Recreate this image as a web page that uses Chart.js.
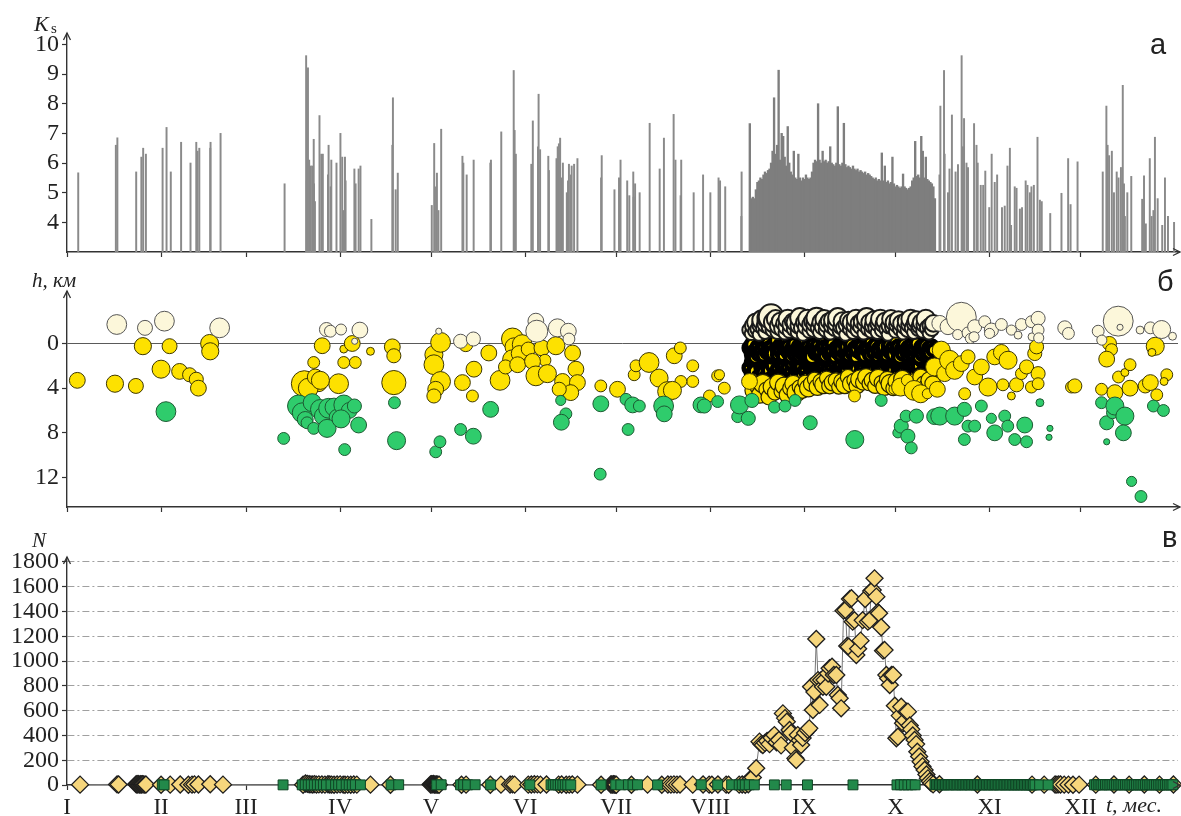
<!DOCTYPE html>
<html>
<head>
<meta charset="utf-8">
<script src="https://cdn.jsdelivr.net/npm/chart.js@4.4.1/dist/chart.umd.min.js"></script>
<style>
html,body{margin:0;padding:0;background:#fff;}
#fig{position:relative;width:1181px;height:816px;overflow:hidden;background:#fff;}
canvas{position:absolute;left:0;}
.t{position:absolute;white-space:nowrap;color:#222;line-height:1;}
.it{font-family:"Liberation Serif","DejaVu Serif",serif;font-style:italic;}
.rm{font-family:"Liberation Serif","DejaVu Serif",serif;}
.sn{font-family:"Liberation Sans","DejaVu Sans",sans-serif;}
</style>
</head>
<body>
<div id="fig">
  <canvas id="cA" width="1181" height="268" style="top:0"></canvas>
  <canvas id="cB" width="1181" height="250" style="top:268px"></canvas>
  <canvas id="cC" width="1181" height="298" style="top:518px"></canvas>

  <div class="t it" style="left:34px;top:13px;font-size:22px">K</div>
  <div class="t rm" style="left:51px;top:21px;font-size:15px">s</div>
  <div class="t sn" style="left:1150px;top:30px;font-size:29px">а</div>

  <div class="t it" style="left:32px;top:270px;font-size:21px">h, км</div>
  <div class="t sn" style="left:1157px;top:267px;font-size:29px">б</div>

  <div class="t it" style="left:32px;top:530px;font-size:21px">N</div>
  <div class="t sn" style="left:1162px;top:523px;font-size:29px">в</div>
  <div class="t it" style="left:1106px;top:794px;font-size:22px">t, мес.</div>
</div>

<script>
// ---- time axis: day of year, month starts and Roman month labels ----
const monthStarts = [0, 31, 59, 90, 120, 151, 181, 212, 243, 273, 304, 334];
const monthLabels = ['I','II','III','IV','V','VI','VII','VIII','IX','X','XI','XII'];

// ---- panel а: energy class Ks of individual events [day, Ks] ----
const ksEvents = [
  [3.7,5.67],[16.1,6.6],[16.6,6.85],[22.8,5.7],[24.5,6.2],[25.1,6.5],[26.0,6.3],[31.5,6.5],[32.8,7.2],[34.2,5.7],
  [37.6,6.7],[40.7,6.0],[42.6,6.7],[43.0,6.4],[43.6,6.5],[47.2,6.5],[47.3,6.7],[50.6,7.0],[71.7,5.3],[78.8,9.62],
  [79.0,5.4],[79.4,9.21],[79.8,6.1],[80.3,5.9],[80.8,5.9],[81.3,6.8],[81.4,5.3],[81.7,4.7],[83.2,7.6],[83.8,6.3],
  [84.3,6.3],[86.0,5.6],[86.2,6.6],[86.9,5.2],[87.1,6.1],[88.8,6.0],[90.1,7.0],[90.7,6.2],[91.1,4.4],[91.6,6.2],
  [91.8,5.4],[94.7,5.8],[95.1,5.3],[96.1,5.8],[96.7,5.9],[100.3,4.1],[107.2,6.6],[107.4,8.2],[108.3,5.1],[109.0,5.66],
  [120.2,4.57],[121.0,6.66],[121.6,5.2],[121.9,5.66],[122.4,4.4],[123.3,7.14],[130.3,6.23],[130.6,6.0],[131.7,5.6],[134.0,6.1],
  [139.5,6.0],[139.7,6.1],[143.1,7.05],[147.2,9.12],[147.5,7.1],[147.9,6.3],[153.0,5.96],[153.5,7.42],[155.2,6.55],[155.4,8.32],
  [155.9,6.45],[158.6,6.23],[158.8,5.75],[161.3,6.15],[161.7,6.55],[162.1,6.65],[162.5,6.84],[162.8,5.5],[163.4,6.0],[164.7,5.0],
  [165.1,5.4],[165.4,5.96],[166.0,5.6],[166.3,5.9],[167.1,5.96],[168.2,6.15],[176.0,5.5],[176.2,6.25],[180.4,5.1],[181.9,5.5],
  [182.4,6.1],[184.6,5.4],[185.3,4.9],[186.6,5.7],[186.7,4.85],[187.2,5.3],[188.7,5.0],[192.0,7.34],[195.3,5.8],[196.7,6.84],
  [199.9,7.64],[200.5,6.1],[202.2,4.9],[202.4,6.1],[206.5,5.0],[209.6,5.6],[212.0,5.0],[214.7,5.5],[215.2,5.4],[216.9,5.2],
  [222.2,4.2],[222.3,5.7],
  [287.5,5.6],[287.8,7.92],[289.0,9.12],[289.2,6.3],[290.3,5.0],[290.8,5.8],[291.6,7.62],[292.8,5.7],[293.6,5.95],[294.8,9.62],
  [295.2,6.55],[295.6,7.5],[296.4,6.0],[296.9,5.85],[298.9,7.33],[299.7,6.6],[300.1,6.0],[301.1,5.25],[301.9,5.25],[302.6,5.73],
  [303.9,4.5],[304.7,6.3],[305.7,5.35],[306.5,5.6],[308.1,4.5],[309.0,4.55],[309.9,5.9],[310.7,6.5],[311.1,3.9],[312.3,5.2],
  [312.9,5.15],[314.0,4.45],[314.7,4.5],[315.9,5.4],[316.5,5.25],[317.3,5.0],[317.8,5.2],[318.6,5.25],[319.8,6.87],[320.6,4.75],
  [321.2,4.7],[324.0,4.3],[327.7,4.98],[329.9,6.15],[330.7,4.6],[333.0,6.04],[341.3,5.7],[342.5,7.92],[342.9,6.6],[343.4,6.25],
  [344.3,6.4],[345.0,5.0],[345.9,5.7],[346.5,5.5],[347.3,5.85],[347.9,8.62],[348.3,5.3],[348.6,4.2],[349.4,5.0],[350.7,5.55],
  [354.3,4.78],[354.9,5.57],[355.5,3.95],[356.8,6.15],[357.4,4.2],[358.0,4.4],[358.5,6.87],[359.4,4.8],[360.9,3.9],[361.8,5.5],
  [362.8,4.2],[364.8,4.0]
];

// ---- panel а: autumn swarm, Ks every half day [day, Ks] ----
const ksSwarm = [
  [225,7.33],[225.5,4.8],[226,4.85],[226.5,4.8],[227,5.1],[227.5,5.35],[228,5.4],[228.5,5.5],[229,5.45],[229.5,5.6],
  [230,5.7],[230.5,5.65],[231,5.75],[231.5,5.8],[232,6.0],[232.5,6.4],[233,8.2],[233.5,6.3],[234,6.6],[234.5,9.13],
  [235,6.1],[235.5,7.0],[236,6.9],[236.5,6.2],[237,5.9],[237.5,7.23],[238,6.0],[238.5,5.7],[239,5.6],[239.5,6.4],
  [240,5.5],[240.5,5.45],[241,6.3],[241.5,5.5],[242,5.4],[242.5,5.5],[243,5.45],[243.5,5.6],[244,5.5],[244.5,5.45],
  [245,5.5],[245.5,5.7],[246,6.0],[246.5,6.1],[247,6.05],[247.5,8.0],[248,6.1],[248.5,6.0],[249,6.4],[249.5,6.05],
  [250,6.1],[250.5,6.0],[251,6.05],[251.5,6.55],[252,6.0],[252.5,5.95],[253,5.9],[253.5,6.0],[254,7.9],[254.5,5.95],
  [255,5.9],[255.5,6.0],[256,7.34],[256.5,5.95],[257,5.85],[257.5,5.9],[258,5.85],[258.5,5.8],[259,5.9],[259.5,5.8],
  [260,5.75],[260.5,5.8],[261,5.7],[261.5,5.75],[262,5.7],[262.5,5.65],[263,5.7],[263.5,5.6],[264,5.65],[264.5,5.6],
  [265,5.55],[265.5,5.5],[266,5.45],[266.5,5.5],[267,5.4],[267.5,5.45],[268,5.4],[268.5,6.34],[269,5.4],[269.5,5.9],
  [270,5.35],[270.5,5.4],[271,5.3],[271.5,5.35],[272,6.2],[272.5,5.3],[273,5.2],[273.5,5.25],[274,5.2],[274.5,5.15],
  [275,5.2],[275.5,5.63],[276,5.2],[276.5,5.15],[277,5.1],[277.5,5.15],[278,5.2],[278.5,5.4],[279,5.5],[279.5,6.73],
  [280,5.55],[280.5,5.6],[281,5.5],[281.5,6.9],[282,6.4],[282.5,5.5],[283,6.2],[283.5,5.45],[284,5.4],[284.5,5.35],
  [285,5.3],[285.5,5.2],[286,4.8]
];

// ---- panel б: hypocentre depth h (km) and class K, [day, h, K] ----
const hCream = [
  [16.4,-1.7,7.5],[25.7,-1.4,6.4],[32.1,-2.0,7.5],[50.3,-1.4,7.5],[85.5,-1.25,6.2],[86.8,-1.1,5.7],[90.3,-1.25,5.5],
  [96.5,-1.2,6.6],[94.8,-0.2,4.4],[122.5,-1.1,4.4],[129.7,-0.2,6.2],[133.9,-0.4,6.2],[154.5,-2.0,6.6],[154.8,-1.1,8.0],
  [161.6,-1.4,7.1],[165.2,-1.1,6.6],[165.4,-0.4,5.7],
  [287.6,-1.8,6.6],[290.3,-1.5,6.6],[294.7,-2.35,9.8],[293.5,-0.8,5.3],[296.9,-0.95,5.7],[297.7,-0.45,5.3],[299.1,-1.5,6.2],
  [298.9,-0.6,5.3],[302.4,-1.95,5.7],[304.6,-1.2,6.2],[304.0,-0.9,5.3],[307.9,-1.7,5.7],[311.2,-1.2,5.3],[313.4,-0.75,4.8],
  [314.5,-1.7,5.7],[317.8,-1.95,5.7],[318.0,-0.6,4.8],[320.0,-2.25,6.2],[320.0,-1.2,5.7],[320.2,-0.5,5.3],
  [328.8,-1.4,6.2],[330.0,-0.9,5.7],[339.8,-1.1,5.7],[341.0,-0.3,5.3],[346.4,-2.0,9.8],[347.0,-1.45,4.4],[353.6,-1.2,4.8],
  [357.0,-1.4,5.7],[360.7,-1.25,7.1],[364.3,-0.65,4.8]
];
const hYellow = [
  [3.4,3.3,6.6],[15.8,3.6,6.9],[22.7,3.8,6.4],[25.0,0.24,6.9],[33.8,0.24,6.4],[31.0,2.3,7.1],[37.1,2.5,6.6],[40.4,2.8,6.2],
  [42.6,3.2,6.2],[43.3,4.0,6.6],[47.0,0.0,7.1],[47.2,0.7,6.9],
  [84.1,0.2,6.6],[81.3,1.7,5.7],[78.2,3.6,8.9],[82.4,3.4,7.5],[83.0,3.6,6.6],[89.5,3.6,7.5],[80.2,4.4,5.7],[91.2,0.5,4.8],
  [94.0,0.0,6.6],[95.0,1.7,5.7],[91.2,1.7,5.7],[100.0,0.7,4.8],[79.5,4.0,7.5],[81.8,3.0,6.6],[83.5,3.3,7.1],
  [107.2,0.3,6.6],[107.7,1.1,6.2],[107.7,3.5,8.5],
  [120.9,1.0,7.1],[120.9,1.9,7.5],[123.1,-0.1,7.5],[123.1,3.4,7.5],[121.5,4.1,6.6],[120.9,4.7,6.2],[130.3,3.5,6.6],
  [134.1,2.3,6.6],[133.6,4.7,5.7],[131.4,0.1,6.2],[139.0,0.85,6.6],[142.7,3.3,7.5],[146.8,-0.4,8.0],[147.3,0.3,7.1],
  [146.8,1.45,7.5],[150.0,0.1,7.5],[149.0,0.9,6.6],[152.0,0.5,6.2],[156.5,0.4,6.6],[157.5,1.5,5.7],[144.5,2.1,6.2],
  [148.5,1.9,6.6],[153.4,1.6,6.6],[154.5,2.9,7.5],[158.3,2.7,7.1],[161.1,0.2,7.1],[163.3,3.4,6.6],[166.6,0.85,6.6],
  [167.7,2.3,6.6],[168.2,3.5,6.6],[166.0,4.4,6.6],[162.2,4.1,6.2],[175.9,3.8,5.7],[181.4,4.1,6.6],[186.9,2.8,5.7],
  [187.5,2.0,5.7],[191.8,1.7,7.5],[195.1,3.1,7.1],[200.1,1.1,6.6],[202.1,0.4,5.7],[206.2,2.0,5.7],[206.2,3.4,5.7],
  [202.3,3.4,5.7],[197.9,4.3,7.5],[199.5,4.2,7.1],[211.7,4.7,5.7],[214.4,2.9,5.7],
  [215.0,2.8,5.3],[216.6,4.0,5.7],[224.9,3.4,6.6],[259.5,4.7,5.7],
  [272.5,4.1,5.3],[274.7,3.9,7.1],[276.9,3.3,5.7],[279.1,4.2,7.5],[281.3,4.5,7.1],[283.5,4.5,5.3],[285.9,2.1,7.1],
  [286.8,4.1,6.6],[288.1,0.6,7.1],[289.2,2.7,6.6],[290.8,1.5,7.5],[292.5,2.4,7.1],[294.7,1.8,6.6],[295.8,4.5,5.7],
  [296.9,1.2,6.2],[299.1,3.0,6.6],[301.3,2.1,6.6],[303.5,3.9,7.1],[305.7,1.2,6.6],[307.9,0.8,6.6],[308.4,3.7,5.7],
  [310.1,1.5,7.1],[311.2,4.7,4.8],[312.9,3.7,6.2],[314.5,2.7,5.7],[316.2,2.1,6.2],[317.8,3.9,5.7],[318.9,0.9,6.2],
  [319.5,0.3,6.2],[320.0,2.7,6.2],[320.0,3.6,5.7],
  [331.0,3.9,5.7],[332.1,3.8,6.2],[340.9,4.1,5.7],[343.5,0.0,6.2],[344.2,0.55,5.7],[342.6,1.4,6.6],[345.3,4.4,6.6],
  [346.5,3.0,5.7],[348.6,2.6,4.8],[350.3,1.9,5.7],[350.3,4.0,6.6],[355.3,3.8,6.2],[357.0,3.5,6.6],[358.6,0.25,7.1],
  [357.5,0.8,4.8],[359.1,4.6,5.7],[362.4,2.8,5.7],[361.5,3.4,4.8]
];
const hGreen = [
  [32.6,6.1,7.5],[71.4,8.5,5.7],[76.3,5.6,8.0],[77.5,6.2,7.5],[78.5,6.8,6.6],[80.8,5.3,7.1],[83.5,5.9,7.5],[84.5,6.5,7.1],
  [86.2,5.8,7.5],[88.0,5.7,7.1],[89.0,6.6,6.6],[91.2,5.5,7.5],[93.0,6.0,6.6],[94.7,5.6,6.2],[79.1,7.1,5.7],[81.3,7.6,5.7],
  [85.7,7.6,7.1],[90.3,6.75,7.1],[96.1,7.3,6.6],[91.5,9.5,5.7],[107.9,5.3,5.7],[108.6,8.7,7.1],[121.5,9.7,5.7],
  [122.9,8.8,5.7],[129.7,7.7,5.7],[133.9,8.3,6.6],[139.6,5.9,6.6],[162.7,5.1,5.3],[164.4,6.3,5.7],[162.9,7.05,6.6],
  [175.9,5.4,6.6],[175.7,11.7,5.7],[184.9,7.7,5.7],[184.2,5.0,5.7],[186.4,5.5,6.6],[188.6,5.6,5.7],[196.6,5.6,7.5],
  [196.8,6.3,6.6],[208.9,5.5,6.6],[210.0,5.6,6.2],[214.4,5.2,5.7],[221.0,6.55,5.7],[221.6,5.5,7.1],[224.5,6.7,6.2],
  [225.7,5.1,6.2],[233.1,5.7,5.7],[236.6,5.6,5.7],[239.9,5.1,5.7],[244.9,7.1,6.2],[259.6,8.6,7.1],[268.3,5.1,5.7],
  [273.8,8.0,5.3],[274.9,7.4,6.2],[276.5,6.5,5.7],[277.1,8.3,6.2],[278.2,9.35,5.7],[279.9,6.5,6.2],[285.9,6.55,6.6],
  [287.6,6.5,7.1],[292.5,6.5,7.1],[295.7,5.9,6.2],[301.3,5.6,5.7],[296.9,7.4,5.7],[299.1,7.4,5.7],[295.7,8.6,5.7],
  [304.6,6.7,5.3],[305.7,8.0,6.6],[309.0,6.5,5.7],[310.0,7.4,5.7],[312.3,8.6,5.7],[315.6,7.3,6.6],[316.2,8.8,5.7],
  [320.6,5.3,4.8],[323.9,7.6,4.4],[323.6,8.4,4.4],
  [340.9,5.3,5.7],[342.6,7.1,6.2],[344.5,6.2,5.7],[345.3,5.6,7.1],[348.6,6.5,7.1],[348.1,8.0,6.6],[342.6,8.8,4.4],
  [358.0,5.6,5.7],[361.3,6.0,5.7],[350.8,12.35,5.3],[353.9,13.7,5.7]
];

// ---- panel б: dense autumn swarm, one row of values per half day ----
const swarmDays = [
  225,225.5,226,226.5,227,227.5,228,228.5,229,229.5,230,230.5,231,231.5,232,232.5,233,233.5,234,234.5,
  235,235.5,236,236.5,237,237.5,238,238.5,239,239.5,240,240.5,241,241.5,242,242.5,243,243.5,244,244.5,
  245,245.5,246,246.5,247,247.5,248,248.5,249,249.5,250,250.5,251,251.5,252,252.5,253,253.5,254,254.5,
  255,255.5,256,256.5,257,257.5,258,258.5,259,259.5,260,260.5,261,261.5,262,262.5,263,263.5,264,264.5,
  265,265.5,266,266.5,267,267.5,268,268.5,269,269.5,270,270.5,271,271.5,272,272.5,273,273.5,274,274.5,
  275,275.5,276,276.5,277,277.5,278,278.5,279,279.5,280,280.5,281,281.5,282,282.5,283,283.5,284,284.5,
  285,285.5
];
const swarmCreamH = [
  -1.2,-0.9,-1.6,-1.1,-1.9,-1.3,-0.8,-1.7,-2.1,-1.4,-1.0,-1.8,-2.3,-1.5,-2.4,-1.2,-1.9,-2.2,-1.0,-1.6,
  -2.0,-1.3,-1.8,-0.9,-1.5,-2.2,-1.1,-1.7,-2.0,-1.3,-1.9,-1.0,-1.6,-2.3,-1.4,-0.8,-1.9,-1.5,-2.2,-1.1,
  -1.7,-2.0,-1.2,-1.8,-2.3,-1.4,-1.0,-1.9,-1.5,-2.2,-1.2,-1.7,-2.0,-0.9,-1.6,-2.1,-1.3,-1.8,-2.3,-1.1,
  -1.5,-2.0,-1.4,-0.8,-1.7,-2.1,-1.3,-1.9,-1.0,-1.6,-2.2,-1.2,-1.8,-1.5,-2.0,-0.9,-1.7,-2.3,-1.3,-1.9,
  -1.1,-1.6,-2.1,-1.4,-1.0,-1.8,-2.2,-1.2,-1.7,-2.0,-1.3,-0.8,-1.6,-2.2,-1.5,-1.9,-1.1,-1.7,-2.1,-1.3,
  -1.8,-0.9,-1.5,-2.0,-1.2,-1.7,-2.2,-1.4,-1.0,-1.8,-2.1,-1.3,-1.6,-1.9,-1.1,-1.7,-2.2,-1.4,-0.9,-1.6,
  -1.3,-1.8
];
const swarmCreamK = [
  6.4,6.0,6.6,5.8,7.0,6.2,5.8,6.8,7.4,6.4,6.0,7.2,7.8,6.6,8.6,6.2,7.6,7.0,6.0,7.0,
  6.8,6.4,6.2,5.8,6.6,7.2,6.0,6.8,6.4,6.2,7.0,5.8,6.6,7.4,6.4,5.8,6.8,6.6,7.2,6.0,
  6.8,6.6,6.2,7.0,7.6,6.4,6.0,7.0,6.6,7.0,6.2,6.8,6.6,5.8,6.6,7.2,6.2,6.8,7.4,6.0,
  6.4,7.0,6.6,5.8,6.8,6.8,6.2,7.0,6.0,6.6,7.2,6.2,6.8,6.4,6.8,5.8,6.6,7.4,6.2,6.8,
  6.0,6.6,7.0,6.4,6.0,6.8,7.2,6.2,6.6,6.8,6.2,5.8,6.6,7.0,6.4,6.8,6.0,6.6,7.0,6.2,
  6.8,5.8,6.4,6.8,6.2,6.6,7.2,6.4,6.0,6.8,7.0,6.2,6.6,6.8,6.0,6.6,7.2,6.4,5.8,6.6,
  6.2,6.8
];
const swarmMidAH = [
  0.4,1.0,0.1,0.7,1.2,0.3,0.9,-0.2,0.6,1.1,0.2,0.8,0.0,0.5,1.2,0.3,0.9,-0.3,0.7,1.0,
  0.2,0.6,1.1,0.4,-0.1,0.8,0.3,1.2,0.5,0.0,0.9,0.6,0.2,1.1,0.4,0.8,-0.2,0.7,1.0,0.3,
  0.6,1.2,0.1,0.9,0.5,0.2,1.0,0.7,-0.1,0.4,1.1,0.6,0.3,0.9,0.0,0.8,1.2,0.4,0.7,0.2,
  1.0,0.5,-0.2,0.9,0.3,1.1,0.6,0.1,0.8,0.4,1.2,0.5,0.0,0.9,0.3,0.7,1.1,0.2,0.6,-0.1,
  1.0,0.4,0.8,0.2,1.2,0.5,0.7,0.0,0.9,0.3,1.1,0.6,0.2,0.8,0.4,1.0,-0.2,0.7,0.3,1.2,
  0.5,0.9,0.1,0.6,1.1,0.4,0.8,0.2,1.0,0.5,0.0,0.7,1.2,0.3,0.9,0.6,0.2,1.1,0.4,0.8,
  0.3,0.6
];
const swarmMidBH = [
  2.2,1.6,2.8,1.9,2.5,1.4,3.0,2.1,1.7,2.6,1.5,2.9,2.0,2.4,1.6,3.1,1.9,2.7,1.3,2.3,
  2.8,1.7,2.5,2.0,3.0,1.5,2.2,2.6,1.8,2.9,1.4,2.3,2.7,1.9,2.1,2.8,1.6,2.4,3.0,1.8,
  2.2,1.5,2.6,2.0,2.8,1.7,2.3,1.4,2.5,2.1,2.7,1.8,2.2,1.5,2.6,2.0,1.7,2.4,1.3,2.2,
  2.6,1.9,2.3,1.6,2.5,1.8,2.1,1.4,2.4,2.0,1.7,2.3,1.5,2.6,1.9,2.2,1.4,2.5,1.8,2.1,
  2.4,1.6,2.2,1.3,2.0,2.5,1.7,2.3,1.5,2.1,1.8,2.6,1.4,2.2,1.9,2.4,1.6,2.0,2.7,1.5,
  2.3,1.8,2.5,1.4,2.1,2.6,1.7,2.2,1.9,2.8,1.6,2.4,2.0,2.7,1.5,2.3,2.9,1.8,2.5,2.1,
  2.6,2.2
];
const swarmMidK = [
  5.8,5.4,6.1,5.6,6.3,5.5,5.9,5.3,6.0,5.7,6.2,5.4,5.8,6.1,5.5,5.9,6.4,5.6,5.3,6.0,
  5.7,6.2,5.5,5.8,6.0,5.4,6.3,5.6,5.9,5.5,6.1,5.7,5.3,6.0,5.8,6.2,5.4,5.9,5.6,6.1,
  5.5,6.3,5.7,5.4,6.0,5.8,5.6,6.2,5.3,5.9,6.1,5.5,5.8,6.0,5.4,6.3,5.7,5.6,6.0,5.5,
  5.9,6.2,5.4,5.7,6.1,5.6,5.3,5.9,6.0,5.5,5.8,6.2,5.6,5.4,6.0,5.7,6.1,5.5,5.9,5.3,
  6.2,5.6,5.8,6.0,5.4,5.7,6.1,5.5,5.9,6.3,5.6,5.4,6.0,5.8,5.5,6.1,5.7,5.3,5.9,6.2,
  5.5,5.8,6.0,5.6,5.4,6.1,5.7,5.9,5.5,6.0,5.8,5.3,6.2,5.6,5.9,5.4,6.0,5.7,5.5,6.1,
  5.8,5.6
];
const swarmLowDays = [
  225.3,226.3,227.3,228.3,229.3,230.3,231.3,232.3,233.3,234.3,235.3,236.3,237.3,238.3,239.3,240.3,241.3,242.3,243.3,244.3,
  245.3,246.3,247.3,248.3,249.3,250.3,251.3,252.3,253.3,254.3,255.3,256.3,257.3,258.3,259.3,260.3,261.3,262.3,263.3,264.3,
  265.3,266.3,267.3,268.3,269.3,270.3,271.3,272.3,273.3,274.3,275.3,276.3,277.3,278.3,279.3,280.3,281.3,282.3,283.3,284.3,
  285.3
];
const swarmLowH = [
  3.4,4.2,3.8,4.6,3.6,4.1,4.8,3.9,4.4,3.5,4.3,3.8,4.6,4.0,3.6,4.4,3.9,4.2,3.5,4.0,
  3.6,3.2,3.9,3.4,3.7,3.1,3.8,3.5,3.3,3.9,3.4,3.7,3.0,3.6,3.3,3.8,3.2,3.5,3.0,3.6,
  3.3,3.8,3.1,3.5,3.9,3.2,3.6,4.0,3.4,3.7,3.2,3.8,3.5,4.1,3.3,3.7,3.0,3.6,3.9,3.3,
  3.6
];
const swarmLowK = [
  6.6,7.0,6.4,6.8,7.2,6.2,6.6,7.0,6.4,6.8,6.2,7.0,6.6,6.4,6.8,7.2,6.2,6.6,6.4,7.0,
  6.6,6.2,6.8,6.4,7.0,6.2,6.6,6.8,6.4,6.2,6.6,7.0,6.4,6.8,6.2,6.6,7.2,6.4,6.8,6.2,
  6.6,6.4,7.0,6.2,6.8,6.6,7.2,6.4,6.8,6.2,7.0,6.6,6.4,6.8,6.2,7.2,6.6,6.4,6.8,7.0,
  6.6
];

// ---- panel в: number of events N, [day, N] ----
const nYellow = [
  [4.3,3],[16.5,5],[17.0,4],[22.8,6],[23.1,4],[23.4,8],[23.7,5],[24.0,3],[24.3,6],[24.6,4],[24.9,7],[25.2,5],[25.6,3],[26.0,4],
  [31.0,2],[34.0,3],[37.3,4],[40.0,2],[41.2,3],[42.0,5],[43.3,4],[47.2,6],[51.4,3],
  [77.8,2],[78.6,12],[79.2,9],[79.8,6],[80.4,5],[81.0,4],[81.6,7],[82.2,3],[83.0,5],[84.0,4],[85.0,3],[86.0,6],[86.6,4],
  [87.2,3],[88.0,2],[89.0,4],[90.0,5],[91.0,3],[91.6,2],[92.5,3],[93.5,2],[94.5,4],[95.5,3],[100.0,3],
  [106.6,2],[119.8,4],[120.1,6],[120.4,5],[120.7,8],[121.0,4],[121.3,3],[121.6,5],[121.9,4],[122.2,3],[122.6,2],[130.0,2],
  [131.5,3],[139.5,2],[143.0,3],[146.0,4],[146.8,5],[147.5,3],[152.0,3],[153.0,4],[154.0,6],[155.0,5],[156.0,3],[158.0,4],
  [162.0,3],[163.0,4],[164.5,2],[165.5,3],[166.5,4],[168.2,3],
  [176.0,2],[179.2,4],[179.5,5],[179.8,3],[180.1,6],[180.4,4],[180.7,3],[181.0,2],[186.0,2],[191.3,3],[196.0,2],[198.0,4],
  [199.0,3],[200.0,5],[201.0,3],[202.0,4],[206.2,3],[209.6,4],[211.6,3],[212.5,2],[214.5,4],[217.2,3],[218.0,2],[221.5,3],
  [222.5,4],[223.5,2],[224.5,6],
  [225.4,54],[226.0,60],[227.1,135],[228.2,350],[228.8,330],[229.3,323],[230.0,340],[230.7,355],[231.5,330],[232.2,380],
  [233.1,403],[233.8,345],[234.6,363],[235.3,320],[235.9,578],[236.6,540],[237.2,511],[238.1,444],[238.6,420],[239.2,300],
  [240.0,215],[240.3,202],[240.8,403],[241.5,360],[241.9,323],[242.4,380],[243.2,420],[244.1,444],[244.6,457],[245.2,793],
  [245.8,605],[246.3,750],[246.9,1178],[247.5,847],[248.0,646],[248.5,847],[249.1,793],[249.6,847],[250.2,793],[250.8,900],
  [251.3,942],[252.1,955],[252.7,888],[253.5,888],[254.0,726],[254.6,700],[255.1,619],[255.9,1407],[256.5,1412],[257.1,1122],
  [257.6,1116],[258.0,1501],[258.5,1507],[258.9,1318],[259.5,1330],[260.1,1049],[260.7,1100],[261.5,1165],[262.2,1330],
  [263.0,1501],[263.9,1318],[264.5,1330],[265.0,1565],[265.5,1574],[266.1,1668],[266.7,1520],[267.2,1394],[267.6,1386],
  [268.3,1273],[268.9,1084],[269.4,1090],[270.0,888],[270.6,860],[271.1,807],[271.7,888],[272.2,888],[272.8,640],[273.3,377],
  [273.8,390],[274.4,560],[274.9,632],[275.5,498],[276.1,520],[276.6,592],[277.1,592],[277.7,480],[278.2,449],[278.7,400],
  [279.3,363],[279.8,330],[280.2,269],[280.8,230],[281.3,188],[281.9,150],[282.6,121],[283.2,85],[283.7,54],[284.3,30],
  [284.8,15],[285.4,5],
  [287.5,6],[300.0,4],[318.0,3],[322.0,3],[325.6,4],[326.2,3],[326.8,5],[327.4,4],[328.6,3],[330.0,3],[331.5,2],[333.5,3],
  [339.0,3],[345.0,4],[350.0,3],[355.0,4],[360.0,3],[364.6,4]
];
const nGreen = [
  [31.4,2],[32.0,1],[71.2,1],[77.5,1],[78.5,2],[79.5,1],[80.5,2],[81.5,1],[82.5,2],[83.5,1],[84.5,2],[85.5,1],[87.0,2],
  [88.5,1],[89.5,2],[90.5,1],[92.0,2],[93.0,1],[94.0,1],[95.0,2],[96.7,1],[106.8,1],[109.3,2],[121.8,1],[123.3,2],
  [129.7,1],[130.7,2],[132.0,1],[134.5,2],[139.6,1],[152.5,1],[159.5,2],[160.2,1],[161.0,2],[161.8,1],[162.6,2],
  [163.4,1],[164.2,2],[165.0,1],[166.0,1],[176.0,1],[180.8,2],[182.5,1],[185.0,2],[186.5,1],[188.0,2],[194.6,1],
  [209.0,2],[214.4,1],[219.0,2],[221.5,1],[222.5,2],[223.5,1],[224.8,2],[226.5,1],[233.1,1],[237.0,1],[244.0,1],
  [259.0,1],[273.5,1],[274.7,2],[275.9,1],[277.1,1],[278.3,2],[279.5,1],
  [286.0,3],[286.5,2],[287.0,4],[287.5,2],[288.0,3],[288.5,1],[289.0,2],[289.5,3],[290.0,2],[290.5,1],[291.0,3],[291.5,2],
  [292.0,2],[292.5,4],[293.0,1],[293.5,2],[294.0,3],[294.5,2],[295.0,1],[295.5,3],[296.0,2],[296.5,2],[297.0,3],[297.5,1],
  [298.0,2],[298.5,3],[299.0,2],[299.5,1],[300.0,2],[300.5,3],[301.0,2],[301.5,1],[302.0,3],[302.5,2],[303.0,2],[303.5,1],
  [304.0,3],[304.5,2],[305.0,1],[305.5,2],[306.0,3],[306.5,2],[307.0,1],[307.5,2],[308.0,2],[308.5,3],[309.0,1],[309.5,2],
  [310.0,2],[310.5,1],[311.0,3],[311.5,2],[312.0,1],[312.5,2],[313.0,2],[313.5,1],[314.0,2],[314.5,3],[315.0,1],[315.5,2],
  [316.0,1],[316.5,2],[317.0,1],[317.5,2],[318.0,1],[318.5,2],[319.0,1],[320.5,1],[323.3,1],
  [338.6,2],[339.2,1],[339.8,3],[340.4,2],[341.0,1],[341.6,2],[342.2,3],[342.8,2],[343.4,1],[344.0,2],[344.6,3],[345.2,2],
  [345.8,1],[346.4,2],[347.0,2],[347.6,3],[348.2,1],[348.8,2],[349.4,2],[350.0,1],[350.6,2],[351.2,1],[351.8,2],[352.4,1],
  [353.0,2],[353.6,1],[354.2,2],[354.8,1],[355.4,2],[356.0,1],[356.6,2],[357.2,3],[357.8,1],[358.4,2],[359.0,1],[359.6,2],
  [360.2,1],[360.8,2],[361.4,1],[362.0,2],[362.6,1],[363.2,2],[363.8,1],[364.4,2]
];

// ---------------------------------------------------------------------
Chart.defaults.font.family = '"Liberation Serif","DejaVu Serif",serif';
Chart.defaults.color = '#222';

const AXIS = '#333';
const DAY_MAX = 366.1;

// arrowheads at the ends of the value axis and the time axis
const axisArrows = {
  id: 'axisArrows',
  afterDraw(chart, _args, o) {
    const {ctx, chartArea: a} = chart;
    ctx.save();
    ctx.strokeStyle = AXIS;
    ctx.lineWidth = 1.3;
    const xl = a.left, yt = a.top - (o.yTip || 2);
    ctx.beginPath(); ctx.moveTo(xl, a.top + 1); ctx.lineTo(xl, yt); ctx.stroke();
    ctx.beginPath(); ctx.moveTo(xl - 3.5, yt + 7); ctx.lineTo(xl, yt); ctx.lineTo(xl + 3.5, yt + 7); ctx.stroke();
    const yb = a.bottom, xr = a.right + (o.xTip || 2);
    ctx.beginPath(); ctx.moveTo(a.right - 1, yb); ctx.lineTo(xr, yb); ctx.stroke();
    ctx.beginPath(); ctx.moveTo(xr - 7, yb - 3.5); ctx.lineTo(xr, yb); ctx.lineTo(xr - 7, yb + 3.5); ctx.stroke();
    ctx.restore();
  }
};

function timeAxis(height, showLabels) {
  return {
    type: 'linear', position: 'bottom', min: 0, max: DAY_MAX, offset: false,
    afterBuildTicks: s => { s.ticks = monthStarts.map(v => ({value: v})); },
    afterFit: s => { s.height = height; s.paddingLeft = 0; s.paddingRight = 0; },
    grid: {offset: false, drawOnChartArea: false, drawTicks: true, tickLength: 5, tickColor: AXIS, tickWidth: 1.2},
    border: {display: true, color: AXIS, width: 1.4},
    ticks: {
      display: showLabels, autoSkip: false, maxRotation: 0, minRotation: 0, padding: 4,
      color: '#222', font: {size: 23},
      callback: v => { const i = monthStarts.indexOf(v); return i >= 0 ? monthLabels[i] : ''; }
    }
  };
}

function valueAxis(min, max, tickValues, extra) {
  return Object.assign({
    type: 'linear', position: 'left', min, max,
    afterBuildTicks: s => { s.ticks = tickValues.map(v => ({value: v})); },
    afterFit: s => { s.width = 67; s.paddingTop = 0; s.paddingBottom = 0; },
    grid: {drawOnChartArea: false, drawTicks: true, tickLength: 5, tickColor: AXIS, tickWidth: 1.2},
    border: {display: true, color: AXIS, width: 1.4},
    ticks: {autoSkip: false, padding: 3, color: '#222', font: {size: 24}, callback: v => String(v)}
  }, extra || {});
}

const common = (pad, arrows) => ({
  responsive: false, animation: false, devicePixelRatio: 1, events: [],
  layout: {padding: pad, autoPadding: false},
  plugins: {legend: {display: false}, tooltip: {enabled: false}, axisArrows: arrows}
});

// ---------------- panel а ----------------
new Chart(document.getElementById('cA'), {
  type: 'bar',
  data: {datasets: [
    {data: ksEvents.map(([d, k]) => ({x: d, y: k})), backgroundColor: '#8a8a8a', barThickness: 1.3, base: 3, grouped: false},
    {data: ksSwarm.map(([d, k]) => ({x: d, y: k})), backgroundColor: '#7e7e7e', barThickness: 1.7, base: 3, grouped: false}
  ]},
  options: Object.assign(common({top: 34, right: 3, left: 0, bottom: 0}, {yTip: 1, xTip: 2}), {
    scales: {
      x: timeAxis(16, false),
      y: valueAxis(3, 10.35, [4, 5, 6, 7, 8, 9, 10])
    }
  }),
  plugins: [axisArrows]
});

// ---------------- panel б ----------------
const rad = k => 2.2 * (k - 3);
const bub = arr => arr.map(([d, h, k]) => ({x: d, y: h, r: rad(k)}));
const rows = (days, hs, ks) => days.map((d, i) => ({x: d, y: hs[i], r: rad(ks[i])})).filter(p => p.y !== undefined && !isNaN(p.r));

const CREAM = '#fcf7da', YELLOW = '#fde100', GREEN = '#2fcc6c';
const bubbleSet = (data, fill, edge, bw) => ({data, backgroundColor: fill, borderColor: edge, borderWidth: bw || 1, clip: false});

new Chart(document.getElementById('cB'), {
  type: 'bubble',
  data: {datasets: [
    bubbleSet(bub(hGreen), GREEN, '#1c5a32'),
    bubbleSet(bub(hCream), CREAM, '#555'),
    bubbleSet(bub(hYellow), YELLOW, '#3c3600'),
    bubbleSet(rows(swarmDays, swarmCreamH, swarmCreamK), CREAM, '#1a1a1a', 2),
    bubbleSet(rows(swarmLowDays, swarmLowH, swarmLowK), YELLOW, '#2a2600', 1.2),
    bubbleSet(rows(swarmDays, swarmMidAH, swarmMidK), YELLOW, '#000', 4.5),
    bubbleSet(rows(swarmDays, swarmMidBH, swarmMidK), YELLOW, '#000', 4.5)
  ]},
  options: Object.assign(common({top: 24, right: 3, left: 0, bottom: 0}, {yTip: 1, xTip: 2}), {
    scales: {
      x: timeAxis(11, false),
      y: valueAxis(-4.61, 14.64, [0, 4, 8, 12], {
        reverse: true,
        grid: {
          drawOnChartArea: true, drawTicks: true, tickLength: 5, tickWidth: 1.2, tickColor: AXIS, lineWidth: 1,
          color: c => (c.tick && c.tick.value === 0) ? '#5a5a5a' : 'rgba(0,0,0,0)'
        }
      })
    }
  }),
  plugins: [axisArrows]
});

// ---------------- panel в ----------------
new Chart(document.getElementById('cC'), {
  type: 'scatter',
  data: {datasets: [
    {data: nGreen.map(([d, n]) => ({x: d, y: n})), showLine: false, pointStyle: 'rect', pointRadius: 7,
     pointBackgroundColor: '#22894a', pointBorderColor: '#0f4424', pointBorderWidth: 1, clip: false},
    {data: nYellow.map(([d, n]) => ({x: d, y: n})), showLine: true, borderColor: '#767676', borderWidth: 1, tension: 0,
     pointStyle: 'rectRot', pointRadius: 8.5, pointBackgroundColor: '#f6d67c', pointBorderColor: '#1e1e1e',
     pointBorderWidth: 1.3, clip: false}
  ]},
  options: Object.assign(common({top: 40, right: 3, left: 0, bottom: 0}, {yTip: 1, xTip: 2}), {
    scales: {
      x: timeAxis(31, true),
      y: valueAxis(0, 1832, [0, 200, 400, 600, 800, 1000, 1200, 1400, 1600, 1800], {
        grid: {
          drawOnChartArea: true, drawTicks: true, tickLength: 5, tickWidth: 1.2, tickColor: AXIS, tickBorderDash: [],
          lineWidth: 1, color: c => (c.tick && c.tick.value === 0) ? 'rgba(0,0,0,0)' : '#a0a0a0'
        },
        border: {display: true, color: AXIS, width: 1.4, dash: [7, 3, 2, 3]},
        ticks: {autoSkip: false, padding: 3, color: '#222', font: {size: 24}, callback: v => String(v)}
      })
    }
  }),
  plugins: [axisArrows]
});
</script>
</body>
</html>
